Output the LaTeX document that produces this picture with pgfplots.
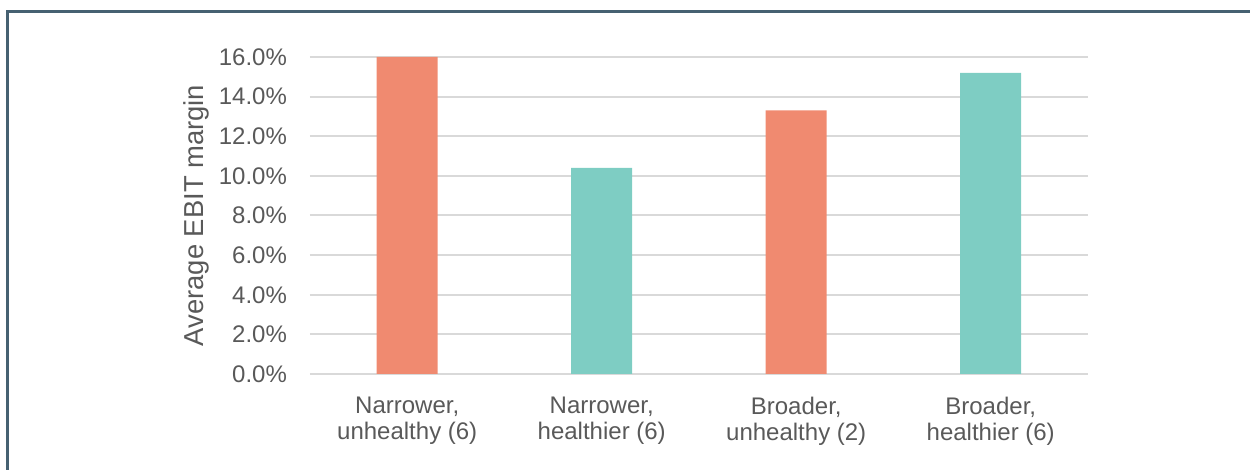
\documentclass[border=0pt]{standalone}
\usepackage{pgfplots}
\pgfplotsset{compat=1.18}
\usepackage{fontspec}
\setmainfont{Liberation Sans}

\definecolor{salmon}{HTML}{F08A70}
\definecolor{teal}{HTML}{7ECDC3}
\definecolor{gridgray}{HTML}{D9D9D9}
\definecolor{txt}{HTML}{595959}
\definecolor{frame}{HTML}{466171}

\begin{document}
\begin{tikzpicture}
  % page = 1250x470 px at 0.5pt per px
  \useasboundingbox (-155pt,-48pt) rectangle (470pt,187pt);
  \draw[frame, line width=1.5pt] (-151pt,-48pt) -- (-151pt,181pt) -- (470pt,181pt);
  \begin{axis}[
      at={(0,0)}, anchor=south west,
      scale only axis,
      width=389pt, height=158.5pt,
      xmin=-0.5, xmax=3.5,
      ymin=0, ymax=16,
      axis line style={draw=none},
      xtick={0,1,2,3},
      xticklabels={{Narrower,\\unhealthy (6)},{Narrower,\\healthier (6)},{Broader,\\unhealthy (2)},{Broader,\\healthier (6)}},
      ytick={0,2,...,16},
      yticklabels={0.0\%,2.0\%,4.0\%,6.0\%,8.0\%,10.0\%,12.0\%,14.0\%,16.0\%},
      major tick length=0pt,
      ymajorgrids,
      grid style={gridgray, line width=1pt},
      tick label style={font=\fontsize{12}{12.8}\selectfont, text=txt},
      xticklabel style={align=center, yshift=-8pt},
      yticklabel style={xshift=-8pt},
      ylabel={Average EBIT margin},
      every axis y label/.style={at={(axis description cs:-0.1465,0.5)}, rotate=90, anchor=center,
        font=\fontsize{13.7}{15}\selectfont, text=txt},
      ybar, bar width=30.5pt, bar shift=0pt,
      /pgf/number format/assume math mode=true,
      clip=false,
    ]
    \addplot[fill=salmon, draw=none] coordinates {(0,16.0) (2,13.3)};
    \addplot[fill=teal, draw=none] coordinates {(1,10.4) (3,15.2)};
  \end{axis}
\end{tikzpicture}
\end{document}
